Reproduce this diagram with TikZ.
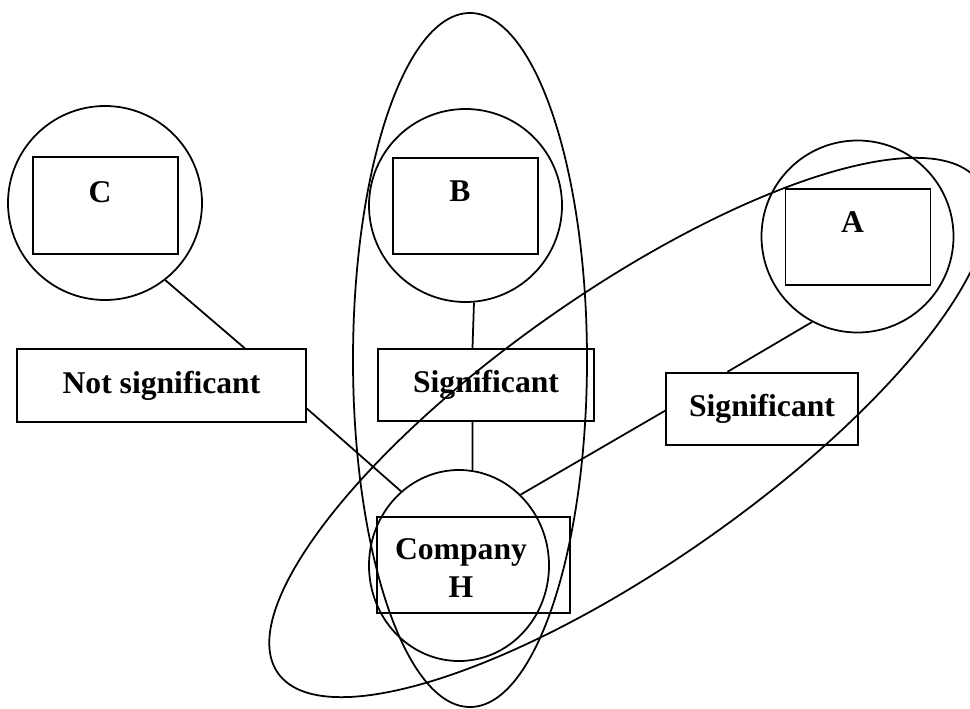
\documentclass[tikz,border=0pt]{standalone}
\usepackage{fontspec}
\setmainfont{Liberation Serif}
\usetikzlibrary{shapes.geometric}

\begin{document}
\begin{tikzpicture}[line width=1pt,
    font=\fontsize{18}{22}\selectfont\bfseries,
    ring/.style={draw,circle,inner sep=0pt,minimum size=#1},
    firm/.style={draw,rectangle,inner sep=0pt,minimum width=2.9cm,minimum height=1.93cm},
    verdict/.style={draw,rectangle,inner sep=0pt,minimum height=1.45cm}]
  \useasboundingbox (0,0) rectangle (19.4,14.16);
  % the two groupings
  \draw (9.40,6.96) ellipse [x radius=2.34,y radius=6.94];
  \draw[rotate around={35:(12.57,5.61)}] (12.57,5.61) ellipse [x radius=8.56,y radius=2.72];
  % companies
  \draw
    (2.10,10.10) node[ring=3.88cm] (cC){}
    (9.31,10.05) node[ring=3.86cm] (cB){}
    (17.15,9.43) node[ring=3.84cm] (cA){}
    (9.18,2.85) node[draw,ellipse,inner sep=0pt,minimum width=3.6cm,minimum height=3.82cm] (cH){};
  \draw
    (2.11,10.05) node[firm] (bC){}
    (9.31,10.04) node[firm] (bB){}
    (17.16,9.42) node[firm] (bA){}
    (9.47,2.86) node[firm,minimum width=3.86cm] (bH){};
  \draw
    (2.00,10.32) node (lC){C}
    (9.20,10.34) node (lB){B}
    (17.05,9.72) node (lA){A}
    (9.22,2.80) node[align=center] (lH){Company\\H};
  % links
  \draw
    (3.23,6.45) node[verdict,minimum width=5.78cm] (ns){Not significant}
    (9.72,6.46) node[verdict,minimum width=4.32cm] (sB){Significant}
    (15.24,5.98) node[verdict,minimum width=3.84cm] (sA){Significant};
  \begin{scope}[-]
    \draw (cC.-52) to (ns.24);
    \draw (ns.-9) to (cH.128);
    \draw (cB.-85) to (sB.110);
    \draw (sB.-110) to (cH.82);
    \draw (cA.-118) to (sA.133);
    \draw (sA.181) to (cH.49);
  \end{scope}
\end{tikzpicture}
\end{document}
